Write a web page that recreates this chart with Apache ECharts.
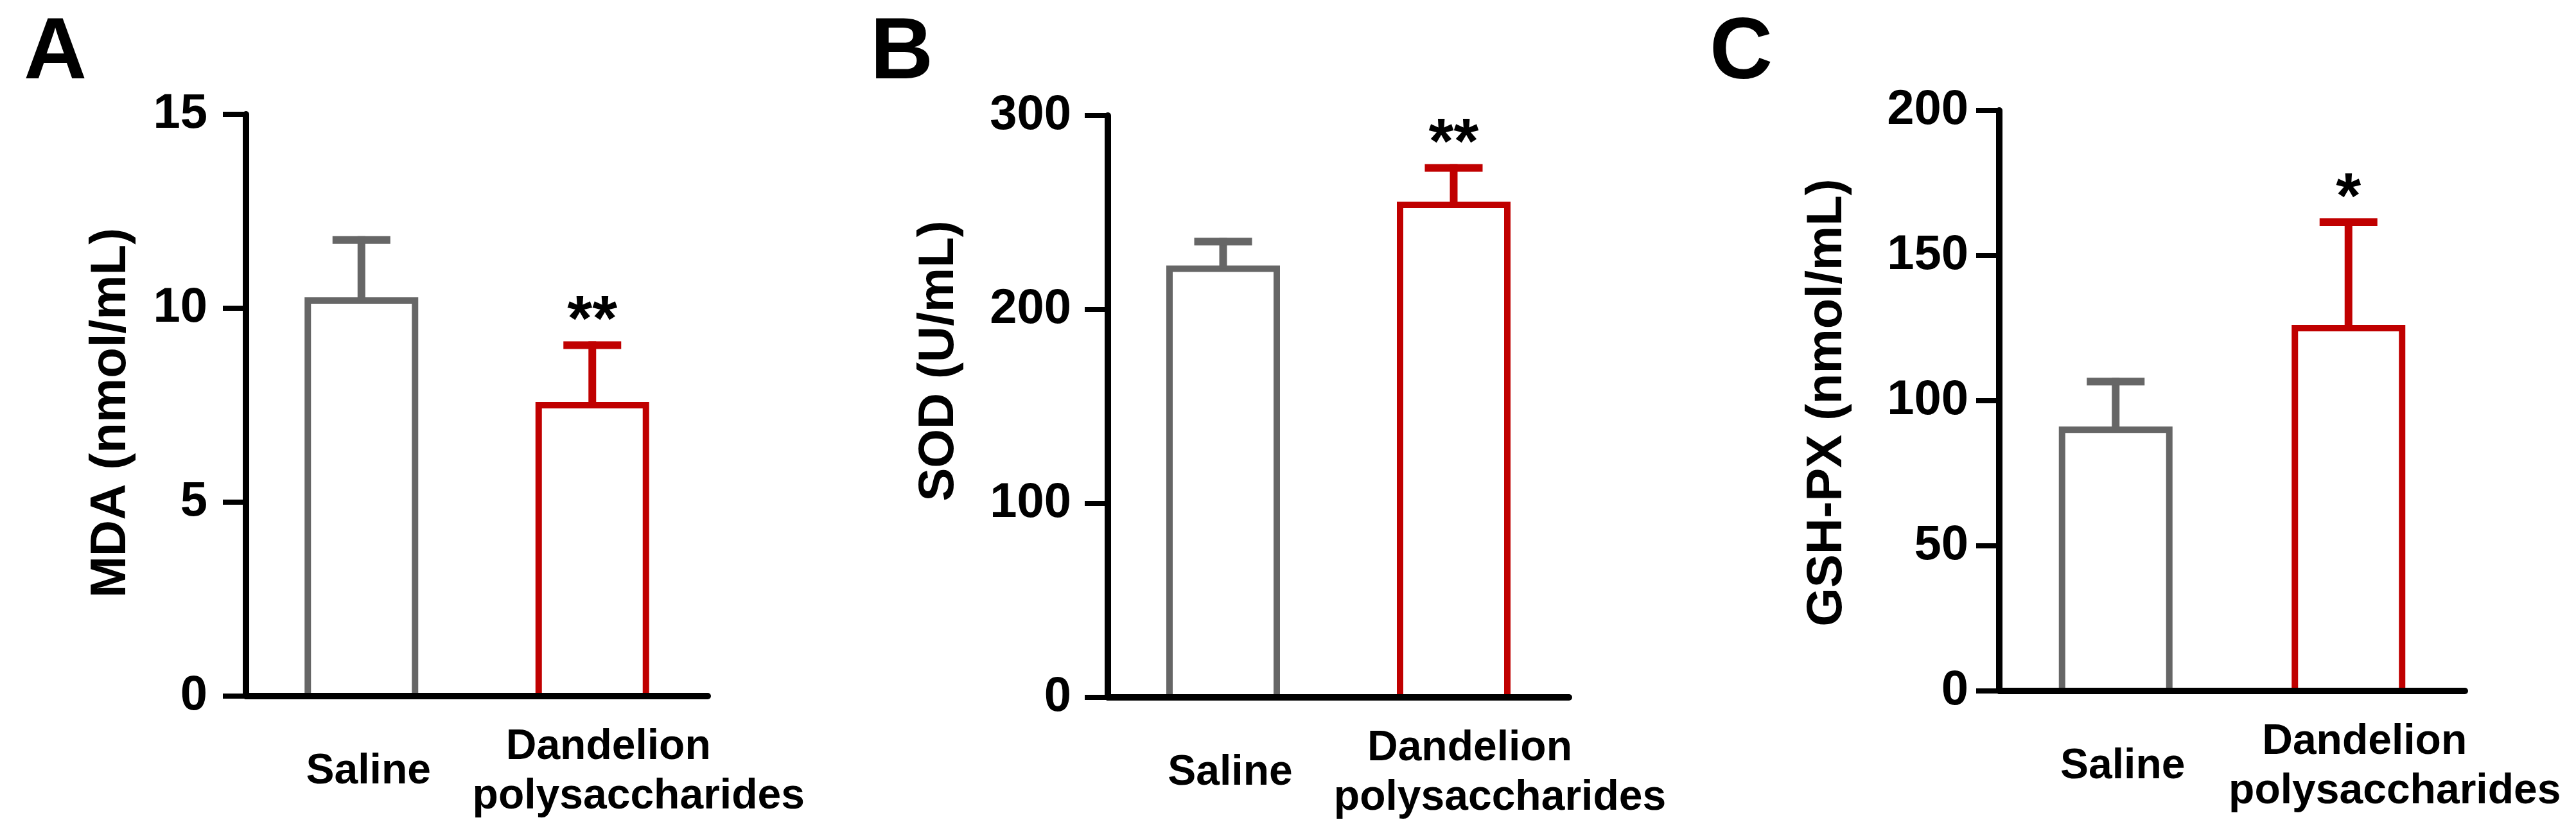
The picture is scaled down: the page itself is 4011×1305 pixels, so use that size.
<!DOCTYPE html>
<html>
<head>
<meta charset="utf-8">
<title>MDA / SOD / GSH-PX</title>
<script src="https://cdn.jsdelivr.net/npm/echarts@6/dist/echarts.min.js"></script>
<style>
    html, body { margin: 0; padding: 0; background: #fff; }
    #chart { width: 4011px; height: 1305px; }
</style>
</head>
<body>
<div id="chart"></div>
<script>
    // groups on every x axis
    var groups = ['Saline', 'Dandelion polysaccharides'];
    var groupColors = ['#666666', '#C00000'];

    // panel A - MDA (nmol/mL)
    var mdaMean = [10.2, 7.5];
    var mdaSd = [1.56, 1.55];
    var mdaStars = ['', '**'];
    var mdaTicks = [0, 5, 10, 15];

    // panel B - SOD (U/mL)
    var sodMean = [221, 254];
    var sodSd = [14, 19];
    var sodStars = ['', '**'];
    var sodTicks = [0, 100, 200, 300];

    // panel C - GSH-PX (nmol/mL)
    var gshMean = [90, 125];
    var gshSd = [16.6, 36.5];
    var gshStars = ['', '*'];
    var gshTicks = [0, 50, 100, 150, 200];

    var font = '"Liberation Sans", Arial, sans-serif';

    var panels = [
        {letter: 'A', letterX: 37, name: 'MDA (nmol/mL)', nameX: 173, nameY: 643,
         mean: mdaMean, sd: mdaSd, stars: mdaStars, ticks: mdaTicks,
         grid: {left: 383, right: 2909, top: 178, bottom: 221}, labelMargin: 60},
        {letter: 'B', letterX: 1355, name: 'SOD (U/mL)', nameX: 1462, nameY: 562,
         mean: sodMean, sd: sodSd, stars: sodStars, ticks: sodTicks,
         grid: {left: 1725, right: 1568, top: 180, bottom: 219}, labelMargin: 57},
        {letter: 'C', letterX: 2662, name: 'GSH-PX (nmol/mL)', nameX: 2845, nameY: 627,
         mean: gshMean, sd: gshSd, stars: gshStars, ticks: gshTicks,
         grid: {left: 3113, right: 173, top: 172, bottom: 229}, labelMargin: 48}
    ];

    function xLabel(value) {
        if (value === groups[0]) {
            return '{s|' + value + '}';
        }
        var words = value.split(' ');
        return '{d|' + words[0] + '}\n{p|' + words[1] + '}';
    }

    // open bar (no bottom edge), sits on the x axis
    function barItem(params, api) {
        var idx = api.value(0);
        var top = api.coord([idx, api.value(1)]);
        var base = api.coord([idx, 0]);
        var half = 83.5;
        return {
            type: 'polyline',
            shape: {points: [[top[0] - half, base[1]], [top[0] - half, top[1]],
                             [top[0] + half, top[1]], [top[0] + half, base[1]]]},
            style: {stroke: groupColors[idx], lineWidth: 10, fill: null, lineJoin: 'miter'}
        };
    }

    function makeErrorBar(stars) {
        return function (params, api) {
            var idx = api.value(0);
            var mean = api.value(1);
            var sd = api.value(2);
            var base = api.coord([idx, mean]);
            var top = api.coord([idx, mean + sd]);
            var color = groupColors[idx];
            var children = [
                {type: 'line', shape: {x1: base[0], y1: base[1], x2: top[0], y2: top[1] - 6},
                 style: {stroke: color, lineWidth: 12}},
                {type: 'line', shape: {x1: top[0] - 45, y1: top[1], x2: top[0] + 45, y2: top[1]},
                 style: {stroke: color, lineWidth: 12}}
            ];
            if (stars[idx]) {
                children.push({
                    type: 'text', x: top[0], y: top[1] - 35,
                    style: {text: stars[idx], fill: '#000', font: 'bold 100px ' + font,
                            align: 'center', verticalAlign: 'middle'}
                });
            }
            return {type: 'group', children: children};
        };
    }

    var labelText = {fontSize: 66, fontWeight: 'bold', fontFamily: font, color: '#000', lineHeight: 77};

    var grids = [], xAxes = [], yAxes = [], series = [], graphics = [];

    panels.forEach(function (p, i) {
        grids.push(p.grid);
        xAxes.push({
            type: 'category',
            gridIndex: i,
            data: groups,
            z: 10,
            axisLine: {lineStyle: {color: '#000', width: 10}},
            axisTick: {show: false},
            axisLabel: {
                interval: 0,
                margin: 118,
                verticalAlign: 'middle',
                color: '#000',
                formatter: xLabel,
                rich: {
                    s: Object.assign({padding: [0, 0, 0, 22]}, labelText),
                    d: Object.assign({padding: [0, 0, 0, 50]}, labelText),
                    p: Object.assign({padding: [0, 0, 0, 144]}, labelText)
                }
            }
        });
        yAxes.push({
            type: 'value',
            gridIndex: i,
            min: p.ticks[0],
            max: p.ticks[p.ticks.length - 1],
            interval: p.ticks[1] - p.ticks[0],
            z: 10,
            axisLine: {show: true, lineStyle: {color: '#000', width: 10}},
            axisTick: {show: true, length: 36, lineStyle: {color: '#000', width: 8}},
            splitLine: {show: false},
            axisLabel: {fontSize: 76, fontWeight: 'bold', fontFamily: font, color: '#000',
                        margin: p.labelMargin, padding: [0, 0, 10, 0]}
        });
        series.push({
            type: 'custom',
            xAxisIndex: i,
            yAxisIndex: i,
            z: 2,
            clip: false,
            encode: {x: 0, y: 1},
            renderItem: barItem,
            data: p.mean.map(function (v, k) {
                return [k, v];
            })
        });
        series.push({
            type: 'custom',
            xAxisIndex: i,
            yAxisIndex: i,
            z: 3,
            clip: false,
            encode: {x: 0, y: 1},
            renderItem: makeErrorBar(p.stars),
            data: p.mean.map(function (v, k) {
                return [k, v, p.sd[k]];
            })
        });
        graphics.push({
            type: 'text', left: p.letterX, top: 16,
            style: {text: p.letter, font: 'bold 136px ' + font, fill: '#000'}
        });
        // y axis title, rotated
        graphics.push({
            type: 'text', x: p.nameX, y: p.nameY, rotation: Math.PI / 2,
            style: {text: p.name, font: 'bold 78px ' + font, fill: '#000',
                    align: 'center', verticalAlign: 'middle'}
        });
    });

    var myChart = echarts.init(document.getElementById('chart'));
    var option = {
        backgroundColor: '#fff',
        animation: false,
        grid: grids,
        xAxis: xAxes,
        yAxis: yAxes,
        series: series,
        graphic: graphics
    };
    myChart.setOption(option);
</script>
</body>
</html>
